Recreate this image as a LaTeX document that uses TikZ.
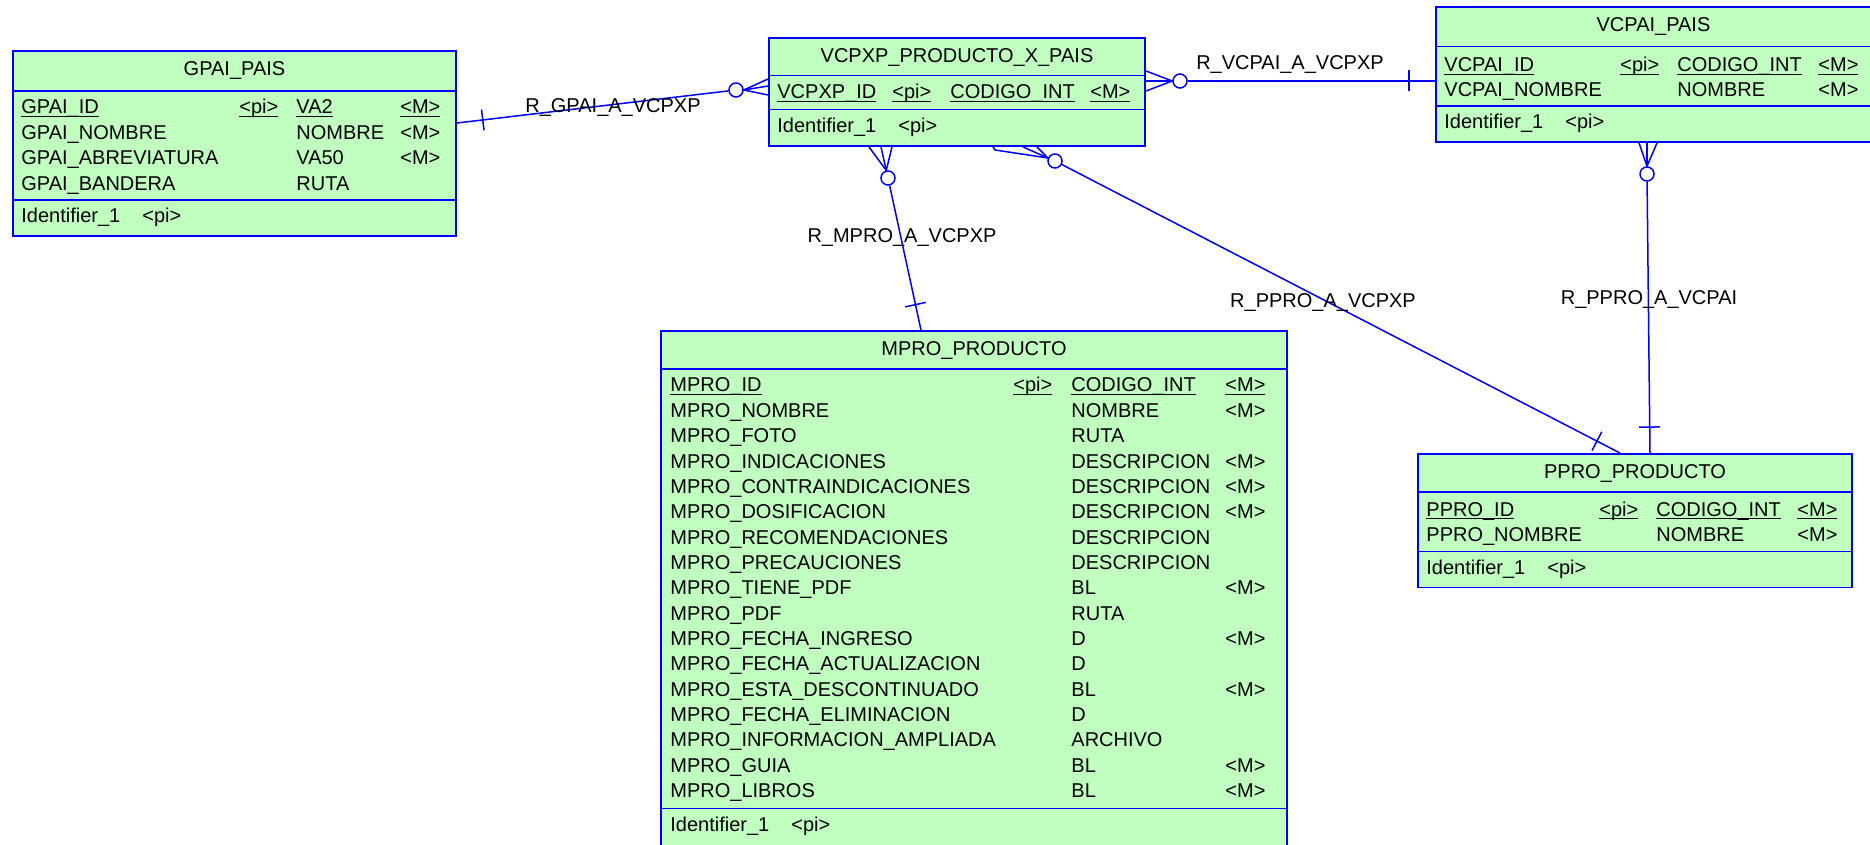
\documentclass[tikz,border=0pt]{standalone}
\usepackage{fontspec}
\setmainfont{Liberation Sans}
\usepackage{tikz}
\usetikzlibrary{fit, decorations.markings}
\definecolor{erblue}{RGB}{0,0,255}
\definecolor{ergreen}{RGB}{192,255,192}
\tikzset{
	entity/.style={draw=erblue, fill=ergreen, line width=0.95pt, inner sep=0pt},
	divider/.style={draw=erblue, line width=0.95pt}
}
\tikzset{
	attr/.style={anchor=base west, inner sep=0pt},
	ename/.style={anchor=base, inner sep=0pt},
	rlabel/.style={anchor=base, inner sep=0pt}
}
\tikzset{
	rel/.style={draw=erblue, line width=0.75pt},
	optcirc/.style={circle, draw=erblue, fill=white, line width=0.75pt, minimum size=7pt, inner sep=0pt},
	onetick/.style={postaction={decorate, decoration={markings,
		mark=at position 13pt with {\draw[erblue, line width=0.75pt] (0,-5.25pt) -- (0,5.25pt);}}}}
}
\newcommand{\pkey}[1]{\underline{\smash{#1}}}

\begin{document}
\begin{tikzpicture}[x=0.5pt, y=-0.5pt, font=\fontsize{10}{12}\selectfont]
  \useasboundingbox (0,0) rectangle (1870,845);

  \node[entity, fit={(13,51) (456,236)}] (gpai) {};
  \draw[divider] (gpai.west |- 0,91) -- (gpai.east |- 0,91);
  \draw[divider] (gpai.west |- 0,200) -- (gpai.east |- 0,200);
  \node[ename] (gpai-t) at (234.5,76) {GPAI\_PAIS};
  \foreach \x/\s [count=\j] in {21/GPAI\_ID, 239/<pi>, 296/VA2, 400/<M>}
    \node[attr] (gpai-k\j) at (\x,114) {\pkey{\s}};
  \foreach \n/\t/\m [count=\i] in {GPAI\_NOMBRE/NOMBRE/<M>, GPAI\_ABREVIATURA/VA50/<M>, GPAI\_BANDERA/RUTA/{}} {
    \node[attr] (gpai-n\i) at (21,{114+25.4*\i}) {\n};
    \node[attr] (gpai-d\i) at (296,{114+25.4*\i}) {\t};
    \node[attr] (gpai-m\i) at (400,{114+25.4*\i}) {\m};
  }
  \node[attr] (gpai-id) at (21,223) {Identifier\_1};
  \node[attr] (gpai-pi) at (142,223) {<pi>};

  \node[entity, fit={(769,38) (1145,146)}] (vcpxp) {};
  \draw[divider] (vcpxp.west |- 0,75.5) -- (vcpxp.east |- 0,75.5);
  \draw[divider] (vcpxp.west |- 0,109.5) -- (vcpxp.east |- 0,109.5);
  \node[ename] (vcpxp-t) at (957,63) {VCPXP\_PRODUCTO\_X\_PAIS};
  \foreach \x/\s [count=\j] in {777/VCPXP\_ID, 892/<pi>, 950/CODIGO\_INT, 1090/<M>}
    \node[attr] (vcpxp-k\j) at (\x,99) {\pkey{\s}};
  \node[attr] (vcpxp-id) at (777,132.5) {Identifier\_1};
  \node[attr] (vcpxp-pi) at (898,132.5) {<pi>};

  \node[entity, fit={(1436,7) (1871,142)}] (vcpai) {};
  \draw[divider] (vcpai.west |- 0,46.5) -- (vcpai.east |- 0,46.5);
  \draw[divider] (vcpai.west |- 0,106) -- (vcpai.east |- 0,106);
  \node[ename] (vcpai-t) at (1653.5,32) {VCPAI\_PAIS};
  \foreach \x/\s [count=\j] in {1444/VCPAI\_ID, 1620/<pi>, 1677/CODIGO\_INT, 1818/<M>}
    \node[attr] (vcpai-k\j) at (\x,71.5) {\pkey{\s}};
  \foreach \n/\t/\m [count=\i] in {VCPAI\_NOMBRE/NOMBRE/<M>} {
    \node[attr] (vcpai-n\i) at (1444,{71.5+25.4*\i}) {\n};
    \node[attr] (vcpai-d\i) at (1677,{71.5+25.4*\i}) {\t};
    \node[attr] (vcpai-m\i) at (1818,{71.5+25.4*\i}) {\m};
  }
  \node[attr] (vcpai-id) at (1444,128.5) {Identifier\_1};
  \node[attr] (vcpai-pi) at (1565,128.5) {<pi>};

  \node[entity, fit={(661,331) (1287,870)}] (mpro) {};
  \draw[divider] (mpro.west |- 0,369) -- (mpro.east |- 0,369);
  \draw[divider] (mpro.west |- 0,808.5) -- (mpro.east |- 0,808.5);
  \node[ename] (mpro-t) at (974,355.5) {MPRO\_PRODUCTO};
  \foreach \x/\s [count=\j] in {670/MPRO\_ID, 1013/<pi>, 1071/CODIGO\_INT, 1225/<M>}
    \node[attr] (mpro-k\j) at (\x,392) {\pkey{\s}};
  \foreach \n/\t/\m [count=\i] in {MPRO\_NOMBRE/NOMBRE/<M>, MPRO\_FOTO/RUTA/{},
      MPRO\_INDICACIONES/DESCRIPCION/<M>, MPRO\_CONTRAINDICACIONES/DESCRIPCION/<M>,
      MPRO\_DOSIFICACION/DESCRIPCION/<M>, MPRO\_RECOMENDACIONES/DESCRIPCION/{},
      MPRO\_PRECAUCIONES/DESCRIPCION/{}, MPRO\_TIENE\_PDF/BL/<M>, MPRO\_PDF/RUTA/{},
      MPRO\_FECHA\_INGRESO/D/<M>, MPRO\_FECHA\_ACTUALIZACION/D/{},
      MPRO\_ESTA\_DESCONTINUADO/BL/<M>, MPRO\_FECHA\_ELIMINACION/D/{},
      MPRO\_INFORMACION\_AMPLIADA/ARCHIVO/{}, MPRO\_GUIA/BL/<M>, MPRO\_LIBROS/BL/<M>} {
    \node[attr] (mpro-n\i) at (670,{392+25.35*\i}) {\n};
    \node[attr] (mpro-d\i) at (1071,{392+25.35*\i}) {\t};
    \node[attr] (mpro-m\i) at (1225,{392+25.35*\i}) {\m};
  }
  \node[attr] (mpro-id) at (670,831) {Identifier\_1};
  \node[attr] (mpro-pi) at (791,831) {<pi>};

  \node[entity, fit={(1418,454) (1852,587.5)}] (ppro) {};
  \draw[divider] (ppro.west |- 0,492) -- (ppro.east |- 0,492);
  \draw[divider] (ppro.west |- 0,551.5) -- (ppro.east |- 0,551.5);
  \node[ename] (ppro-t) at (1635,479) {PPRO\_PRODUCTO};
  \foreach \x/\s [count=\j] in {1426/PPRO\_ID, 1599/<pi>, 1656/CODIGO\_INT, 1797/<M>}
    \node[attr] (ppro-k\j) at (\x,516) {\pkey{\s}};
  \foreach \n/\t/\m [count=\i] in {PPRO\_NOMBRE/NOMBRE/<M>} {
    \node[attr] (ppro-n\i) at (1426,{516+25.4*\i}) {\n};
    \node[attr] (ppro-d\i) at (1656,{516+25.4*\i}) {\t};
    \node[attr] (ppro-m\i) at (1797,{516+25.4*\i}) {\m};
  }
  \node[attr] (ppro-id) at (1426,574) {Identifier\_1};
  \node[attr] (ppro-pi) at (1547,574) {<pi>};

  \node[optcirc] (o1) at (736,90) {};
  \draw[rel, onetick] (gpai.east |- 0,123) -- (o1);
  \draw[rel] (vcpxp.west |- 0,79) -- (o1.east) -- (vcpxp.west |- 0,95);
  \draw[rel] (vcpxp.west |- 0,86) -- (o1.east);
  \node[rlabel] (l1) at (613,113) {R\_GPAI\_A\_VCPXP};

  \node[optcirc] (o2) at (1180,81) {};
  \draw[rel, onetick] (vcpai.west |- 0,81) -- (o2);
  \draw[rel] (vcpxp.east |- 0,71) -- (o2.west) -- (vcpxp.east |- 0,91);
  \draw[rel] (vcpxp.east |- 0,81) -- (o2.west);
  \node[rlabel] (l2) at (1290,70) {R\_VCPAI\_A\_VCPXP};

  \node[optcirc] (o3) at (888,178) {};
  \draw[rel, onetick] (mpro.north -| 921,0) -- (o3);
  \draw[rel] (vcpxp.south -| 869,0) -- (o3.103) -- (vcpxp.south -| 892,0);
  \draw[rel] (vcpxp.south -| 881,0) -- (o3.103);
  \node[rlabel] (l3) at (902,243) {R\_MPRO\_A\_VCPXP};

  \node[optcirc] (o4) at (1055,161) {};
  \draw[rel, onetick] (ppro.north -| 1620,0) -- (o4);
  \draw[rel] (vcpxp.south -| 993,0) -- (995,150) -- (o4.157) -- (vcpxp.south -| 1037,0);
  \draw[rel] (vcpxp.south -| 1023,0) -- (o4.157);
  \node[rlabel] (l4) at (1323,308) {R\_PPRO\_A\_VCPXP};

  \node[optcirc] (o5) at (1647,174) {};
  \draw[rel, onetick] (ppro.north -| 1650,0) -- (o5);
  \draw[rel] (vcpai.south -| 1639,0) -- (o5.north) -- (vcpai.south -| 1657,0);
  \draw[rel] (vcpai.south -| 1647,0) -- (o5.north);
  \node[rlabel] (l5) at (1649,305) {R\_PPRO\_A\_VCPAI};
\end{tikzpicture}
\end{document}
